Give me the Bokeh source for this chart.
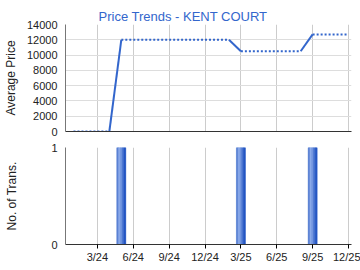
from bokeh.plotting import figure
from bokeh.layouts import column
from bokeh.models import Range1d, FixedTicker
from bokeh.embed import file_html
from bokeh.resources import INLINE

months = ["2024-01", "2024-02", "2024-03", "2024-04", "2024-05", "2024-06",
          "2024-07", "2024-08", "2024-09", "2024-10", "2024-11", "2024-12",
          "2025-01", "2025-02", "2025-03", "2025-04", "2025-05", "2025-06",
          "2025-07", "2025-08", "2025-09", "2025-10", "2025-11", "2025-12"]
prices = [0, 0, 0, 0, 12000, 12000, 12000, 12000, 12000, 12000, 12000, 12000,
          12000, 12000, 10500, 10500, 10500, 10500, 10500, 10500, 12700, 12700, 12700, 12700]
trans = [0, 0, 0, 0, 1, 0, 0, 0, 0, 0, 0, 0,
         0, 0, 1, 0, 0, 0, 0, 0, 1, 0, 0, 0]
tick_months = ["2024-03", "2024-06", "2024-09", "2024-12", "2025-03", "2025-06", "2025-09", "2025-12"]
tick_labels = ["3/24", "6/24", "9/24", "12/24", "3/25", "6/25", "9/25", "12/25"]
price_ticks = [0, 2000, 4000, 6000, 8000, 10000, 12000, 14000]
trans_ticks = [0, 1]

FONT = "Liberation Sans"
BLUE = "#3366cc"

xs = list(range(len(months)))
tick_pos = [months.index(m) for m in tick_months]
overrides = {p: l for p, l in zip(tick_pos, tick_labels)}

x_lo, x_hi = -0.667, 23.25


def style_common(p):
    p.outline_line_color = None
    p.background_fill_color = "white"
    p.border_fill_color = "white"
    p.xgrid.ticker = FixedTicker(ticks=tick_pos)
    p.xgrid.grid_line_color = "#cccccc"
    p.ygrid.grid_line_color = "#dddddd"
    for ax in (p.xaxis[0], p.yaxis[0]):
        ax.major_label_text_font = FONT
        ax.major_label_text_font_size = "11px"
        ax.major_label_text_color = "#222222"
        ax.axis_label_text_font = FONT
        ax.axis_label_text_font_size = "12px"
        ax.axis_label_text_font_style = "normal"
        ax.axis_label_text_color = "#222222"
        ax.minor_tick_line_color = None
        ax.major_tick_in = 0
    p.yaxis.major_tick_out = 0
    p.yaxis.axis_line_color = "#777777"
    p.xaxis.axis_line_color = "#333333"
    p.xaxis.major_label_overrides = overrides


top = figure(width=360, height=139, x_range=Range1d(x_lo, x_hi), y_range=Range1d(0, 14000),
             output_backend="svg", toolbar_location=None,
             min_border_left=64, min_border_right=9, min_border_top=24, min_border_bottom=8)
top.title.text = "Price Trends - KENT COURT"
top.title.text_font = FONT
top.title.text_font_size = "13px"
top.title.text_font_style = "normal"
top.title.text_color = BLUE
top.title.align = "left"
top.title.offset = 33
top.title.standoff = 2
style_common(top)
top.yaxis.ticker = FixedTicker(ticks=price_ticks)
top.yaxis.axis_label = "Average Price"
top.yaxis.major_label_standoff = 8
top.yaxis.axis_label_standoff = 6
top.xaxis.ticker = FixedTicker(ticks=[])
top.xaxis.major_tick_out = 0
top.xaxis.major_label_standoff = 0

sx0, sy0, sx1, sy1 = [], [], [], []
dx0, dy0, dx1, dy1 = [], [], [], []
for i in range(1, len(months)):
    if trans[i] > 0:
        sx0.append(xs[i - 1]); sy0.append(prices[i - 1]); sx1.append(xs[i]); sy1.append(prices[i])
    else:
        dx0.append(xs[i - 1]); dy0.append(prices[i - 1]); dx1.append(xs[i]); dy1.append(prices[i])
top.segment(dx0, dy0, dx1, dy1, line_color=BLUE, line_width=2, line_dash="2 2")
top.segment(sx0, sy0, sx1, sy1, line_color=BLUE, line_width=2)

bot = figure(width=360, height=131, x_range=top.x_range, y_range=Range1d(0, 1),
             output_backend="svg", toolbar_location=None,
             min_border_left=64, min_border_right=9, min_border_top=8, min_border_bottom=26)
style_common(bot)
bot.ygrid.grid_line_color = "#cccccc"
bot.yaxis.ticker = FixedTicker(ticks=trans_ticks)
bot.xaxis.ticker = FixedTicker(ticks=tick_pos)
bot.yaxis.axis_label = "No. of Trans."
bot.yaxis.major_label_standoff = 8
bot.yaxis.axis_label_standoff = 29
bot.xaxis.major_tick_out = 4
bot.xaxis.major_label_standoff = 2

bx = [xs[i] for i in range(len(months)) if trans[i] > 0]
bt = [trans[i] for i in range(len(months)) if trans[i] > 0]
bot.vbar(x=bx, top=bt, width=0.75, bottom=0, fill_color="#6a8fdc", line_color=None)
strip_colors = ["#5b82d3", "#8cabea", "#7396e0", "#4a74d0", "#2456c3"]
strip_w = 0.15
for k, c in enumerate(strip_colors):
    off = (k - (len(strip_colors) - 1) / 2) * strip_w
    bot.vbar(x=[v + off for v in bx], top=bt, width=strip_w, bottom=0,
             fill_color=c, line_color=c, line_width=0.5)

layout = column(top, bot, spacing=0)
open("out.html", "w").write(file_html(layout, INLINE))
